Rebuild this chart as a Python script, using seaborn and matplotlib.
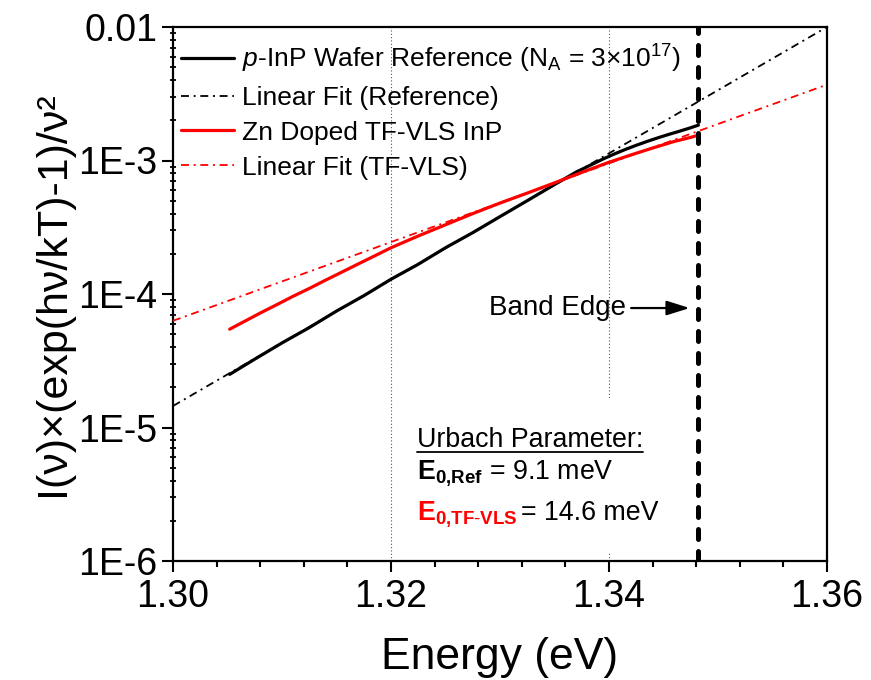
import numpy as np
import pandas as pd
import matplotlib
matplotlib.use("Agg")
import matplotlib.pyplot as plt
import matplotlib.ticker as mticker
from matplotlib.patches import Rectangle
from matplotlib.lines import Line2D
import seaborn as sns

# ---------------- data ----------------
energy_ref = [1.3052, 1.3075, 1.3100, 1.3125, 1.3150, 1.3175, 1.3200, 1.3225, 1.3250,
              1.3275, 1.3300, 1.3325, 1.3350, 1.3370, 1.3385, 1.3395, 1.3405, 1.3415,
              1.3425, 1.3435, 1.3445, 1.3455, 1.3465, 1.3475, 1.3482]
signal_ref = [2.50e-5, 3.25e-5, 4.30e-5, 5.60e-5, 7.45e-5, 9.70e-5, 1.29e-4, 1.67e-4, 2.22e-4,
              2.88e-4, 3.80e-4, 5.00e-4, 6.60e-4, 8.20e-4, 9.40e-4, 1.03e-3, 1.12e-3, 1.21e-3,
              1.30e-3, 1.39e-3, 1.48e-3, 1.57e-3, 1.66e-3, 1.76e-3, 1.84e-3]

energy_tf = [1.3052, 1.3065, 1.3080, 1.3095, 1.3110, 1.3125, 1.3140, 1.3155, 1.3170,
             1.3185, 1.3200, 1.3225, 1.3250, 1.3275, 1.3300, 1.3325, 1.3350,
             1.3375, 1.3400, 1.3420, 1.3440, 1.3460, 1.3475, 1.3482]
signal_tf = [5.45e-5, 6.20e-5, 7.20e-5, 8.30e-5, 9.60e-5, 1.10e-4, 1.27e-4, 1.46e-4, 1.68e-4,
             1.93e-4, 2.22e-4, 2.72e-4, 3.30e-4, 4.00e-4, 4.80e-4, 5.70e-4, 6.80e-4,
             8.15e-4, 9.70e-4, 1.10e-3, 1.24e-3, 1.39e-3, 1.49e-3, 1.55e-3]

fit_ref_energy = [1.30, 1.36]
fit_ref_signal = [1.45e-5, 1.0e-2]
fit_tf_energy = [1.30, 1.36]
fit_tf_signal = [6.3e-5, 3.7e-3]

band_edge = 1.3482
grid_energies = [1.32, 1.34]

xticks = [1.30, 1.32, 1.34, 1.36]
ytick_values = [1e-6, 1e-5, 1e-4, 1e-3, 1e-2]
ytick_labels = ["1E-6", "1E-5", "1E-4", "1E-3", "0.01"]

labels = [r"$\mathit{p}$-InP Wafer Reference (N$_{\mathrm{A}}$ = 3×10$^{17}$)",
          "Linear Fit (Reference)",
          "Zn Doped TF-VLS InP",
          "Linear Fit (TF-VLS)"]

# ---------------- style ----------------
sns.set_style("ticks")
plt.rcParams["font.family"] = ["Liberation Sans", "DejaVu Sans"]
plt.rcParams["mathtext.fontset"] = "custom"
plt.rcParams["mathtext.rm"] = "Liberation Sans"
plt.rcParams["mathtext.it"] = "Liberation Sans:italic"
plt.rcParams["mathtext.bf"] = "Liberation Sans:bold"
for k in ["text.color", "axes.labelcolor", "xtick.color", "ytick.color", "axes.edgecolor"]:
    plt.rcParams[k] = "black"

fig = plt.figure(figsize=(8.71, 6.80), dpi=100)
ax = fig.add_axes([173/871, 1 - 561/680, (827-173)/871, (561-27)/680])
ax.set_yscale("log")

df_ref = pd.DataFrame({"E": energy_ref, "S": signal_ref})
df_tf = pd.DataFrame({"E": energy_tf, "S": signal_tf})
df_fr = pd.DataFrame({"E": fit_ref_energy, "S": fit_ref_signal})
df_ft = pd.DataFrame({"E": fit_tf_energy, "S": fit_tf_signal})

dashdot = (0, (4.4, 2.6, 1.1, 2.6))

sns.lineplot(data=df_ref, x="E", y="S", ax=ax, color="black", lw=2.3, sort=False,
             label=labels[0], zorder=4)
sns.lineplot(data=df_fr, x="E", y="S", ax=ax, color="black", lw=1.3, sort=False,
             label=labels[1], zorder=3)
sns.lineplot(data=df_tf, x="E", y="S", ax=ax, color="#ff0000", lw=2.3, sort=False,
             label=labels[2], zorder=4)
sns.lineplot(data=df_ft, x="E", y="S", ax=ax, color="#ff0000", lw=1.3, sort=False,
             label=labels[3], zorder=3)
for ln in ax.get_lines()[1::2]:
    ln.set_linestyle(dashdot)

for g in grid_energies:
    ax.axvline(g, color="#555555", lw=0.8, linestyle=(0, (1, 2)), zorder=1)

vl = ax.axvline(band_edge, color="black", lw=3.6, linestyle=(0, (2.0, 2.4)), zorder=5)
vl.set_dash_capstyle("round")

ax.set_xlim(1.30, 1.36)
ax.set_ylim(1e-6, 1e-2)

ax.set_xticks(xticks)
ax.xaxis.set_major_formatter(mticker.FormatStrFormatter("%.2f"))
ax.xaxis.set_minor_locator(mticker.MultipleLocator(0.004))
ax.set_yticks(ytick_values)
ax.set_yticklabels(ytick_labels)
ax.yaxis.set_minor_locator(mticker.LogLocator(base=10, subs=np.arange(2, 10)))
ax.yaxis.set_minor_formatter(mticker.NullFormatter())

ax.tick_params(axis="both", which="major", labelsize=27, width=1.5, length=8, direction="out", pad=3)
ax.tick_params(axis="x", which="minor", width=1.5, length=4.5, direction="out")
ax.tick_params(axis="y", which="minor", width=1.3, length=5, direction="inout")
ax.tick_params(axis="x", which="major", pad=5)
for s in ax.spines.values():
    s.set_linewidth(1.6)
    s.set_color("black")

ax.set_xlabel("Energy (eV)", fontsize=32, labelpad=16)
ax.set_ylabel("I(ν)×(exp(hν/kT)-1)/ν²", fontsize=31, labelpad=4)

leg = ax.legend(loc="upper left", bbox_to_anchor=(-0.008, 0.995), frameon=False, fontsize=19,
                handlelength=2.0, handletextpad=0.3, labelspacing=0.41,
                borderaxespad=0.3, borderpad=0.2)

# Band edge annotation
ax.annotate("Band Edge", xy=(1.3474, 7.85e-5), xytext=(1.3416, 7.85e-5),
            ha="right", va="center", fontsize=20,
            arrowprops=dict(arrowstyle="-|>,head_length=0.7,head_width=0.22", color="black",
                            lw=1.6, shrinkA=1, shrinkB=0))

# Urbach parameter box
ax.add_patch(Rectangle((0.355, 0.015), 0.42, 0.29, transform=ax.transAxes,
                       facecolor="white", edgecolor="none", zorder=2))
t1 = ax.text(0.3726, 0.214, "Urbach Parameter:", transform=ax.transAxes, fontsize=19.3,
             ha="left", va="baseline", zorder=6)
ax.text(0.3726, 0.155, r"$\mathbf{E}_{\mathbf{0{,}Ref}}$ = 9.1 meV", transform=ax.transAxes,
        fontsize=19.3, ha="left", va="baseline", zorder=6)
t3 = ax.text(0.3726, 0.077, r"$\mathbf{E}_{\mathbf{0{,}TF\text{-}VLS}}$", transform=ax.transAxes,
             fontsize=19.3, ha="left", va="baseline", color="#ff0000", zorder=6)

fig.canvas.draw()
renderer = fig.canvas.get_renderer()
bb3 = t3.get_window_extent(renderer=renderer)
x_after = ax.transAxes.inverted().transform((bb3.x1 + 4, bb3.y0))[0]
ax.text(x_after, 0.077, "= 14.6 meV", transform=ax.transAxes,
        fontsize=19.3, ha="left", va="baseline", zorder=6)

bb = t1.get_window_extent(renderer=renderer)
inv = fig.transFigure.inverted()
(x0, y0), (x1, y1) = inv.transform([(bb.x0, bb.y0), (bb.x1, bb.y0)])
fig.add_artist(Line2D([x0, x1], [y0 + 0.001, y0 + 0.001], transform=fig.transFigure,
                      color="black", lw=1.3))

fig.savefig("out.png", dpi=100)
